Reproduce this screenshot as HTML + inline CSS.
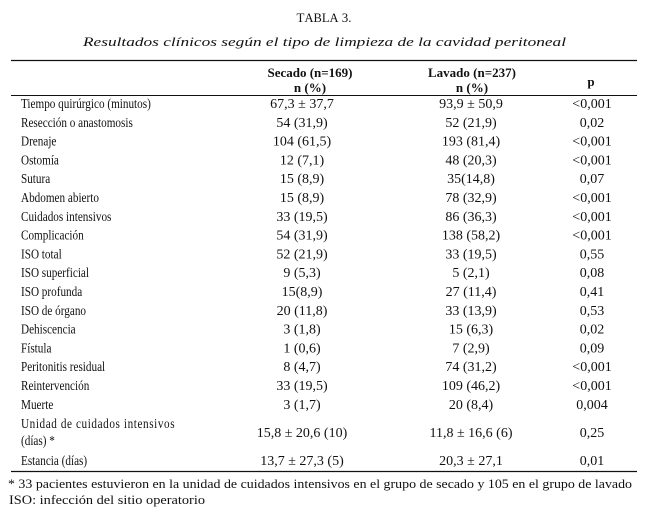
<!DOCTYPE html>
<html><head><meta charset="utf-8"><style>
html,body{margin:0;padding:0;background:#fff}
svg{display:block}
text{font-family:"Liberation Serif","Times New Roman",serif;fill:#111;font-size:13px}
.l{font-size:14px;transform-box:fill-box;transform-origin:left center;transform:scaleX(.8)}
.v{font-size:14px}
</style></head><body>
<svg width="647" height="517" viewBox="0 0 647 517">
<text x="324" y="22" text-anchor="middle" font-size="16">T<tspan font-size="12.5">ABLA</tspan> 3.</text>
<text x="324.5" y="46" text-anchor="middle" font-size="17" font-style="italic" textLength="483" lengthAdjust="spacingAndGlyphs">Resultados clínicos según el tipo de limpieza de la cavidad peritoneal</text>
<line x1="11" y1="60.5" x2="637" y2="60.5" stroke="#111" stroke-width="1.2"/>
<g>
<text x="310" y="77" text-anchor="middle" font-weight="bold" font-size="14">Secado (n=169)</text>
<text x="310" y="92" text-anchor="middle" font-weight="bold" font-size="14">n (%)</text>
<text x="472" y="77" text-anchor="middle" font-weight="bold" font-size="14">Lavado (n=237)</text>
<text x="472" y="92" text-anchor="middle" font-weight="bold" font-size="14">n (%)</text>
<text x="591" y="86" text-anchor="middle" font-weight="bold" font-size="15">p</text>
</g>
<line x1="11" y1="95.5" x2="637" y2="95.5" stroke="#111" stroke-width="1"/>
<g id="rows"></g>
<text class="l" x="21" y="428" textLength="192" lengthAdjust="spacing">Unidad de cuidados intensivos</text>
<text class="l" x="21" y="445">(días) *</text>
<text class="v" x="302" y="437" text-anchor="middle">15,8 ± 20,6 (10)</text>
<text class="v" x="471" y="437" text-anchor="middle">11,8 ± 16,6 (6)</text>
<text class="v" x="592" y="437" text-anchor="middle">0,25</text>
<text class="l" x="21" y="465">Estancia (días)</text>
<text class="v" x="302" y="465" text-anchor="middle">13,7 ± 27,3 (5)</text>
<text class="v" x="471" y="465" text-anchor="middle">20,3 ± 27,1</text>
<text class="v" x="592" y="465" text-anchor="middle">0,01</text>
<line x1="11" y1="471.5" x2="637" y2="471.5" stroke="#111" stroke-width="1.2"/>
<text x="8" y="488" textLength="624" lengthAdjust="spacingAndGlyphs">* 33 pacientes estuvieron en la unidad de cuidados intensivos en el grupo de secado y 105 en el grupo de lavado</text>
<text x="9" y="504" textLength="196" lengthAdjust="spacingAndGlyphs">ISO: infección del sitio operatorio</text>
</svg>
<script>
const labels=["Tiempo quirúrgico (minutos)","Resección o anastomosis","Drenaje","Ostomía","Sutura","Abdomen abierto","Cuidados intensivos","Complicación","ISO total","ISO superficial","ISO profunda","ISO de órgano","Dehiscencia","Fístula","Peritonitis residual","Reintervención","Muerte"];
const secado=["67,3 ± 37,7","54 (31,9)","104 (61,5)","12 (7,1)","15 (8,9)","15 (8,9)","33 (19,5)","54 (31,9)","52 (21,9)","9 (5,3)","15(8,9)","20 (11,8)","3 (1,8)","1 (0,6)","8 (4,7)","33 (19,5)","3 (1,7)"];
const lavado=["93,9 ± 50,9","52 (21,9)","193 (81,4)","48 (20,3)","35(14,8)","78 (32,9)","86 (36,3)","138 (58,2)","33 (19,5)","5 (2,1)","27 (11,4)","33 (13,9)","15 (6,3)","7 (2,9)","74 (31,2)","109 (46,2)","20 (8,4)"];
const pvals=["<0,001","0,02","<0,001","<0,001","0,07","<0,001","<0,001","<0,001","0,55","0,08","0,41","0,53","0,02","0,09","<0,001","<0,001","0,004"];
const NS="http://www.w3.org/2000/svg";
const g=document.getElementById('rows');
function mk(x,y,t,anchor,cls){
  const e=document.createElementNS(NS,'text');
  e.setAttribute('x',x);e.setAttribute('y',y);
  if(anchor)e.setAttribute('text-anchor',anchor);
  e.setAttribute('class',cls);
  e.textContent=t;g.appendChild(e);return e;
}
labels.forEach((l,i)=>{
  const y=108+i*18.8;
  const a=mk(21,y,l,null,'l');
  
  
  const b=mk(302,y,secado[i],'middle','v');
  
  
  const c=mk(471,y,lavado[i],'middle','v');
  
  
  const d=mk(592,y,pvals[i],'middle','v');
  
  
});
</script>
</body></html>
